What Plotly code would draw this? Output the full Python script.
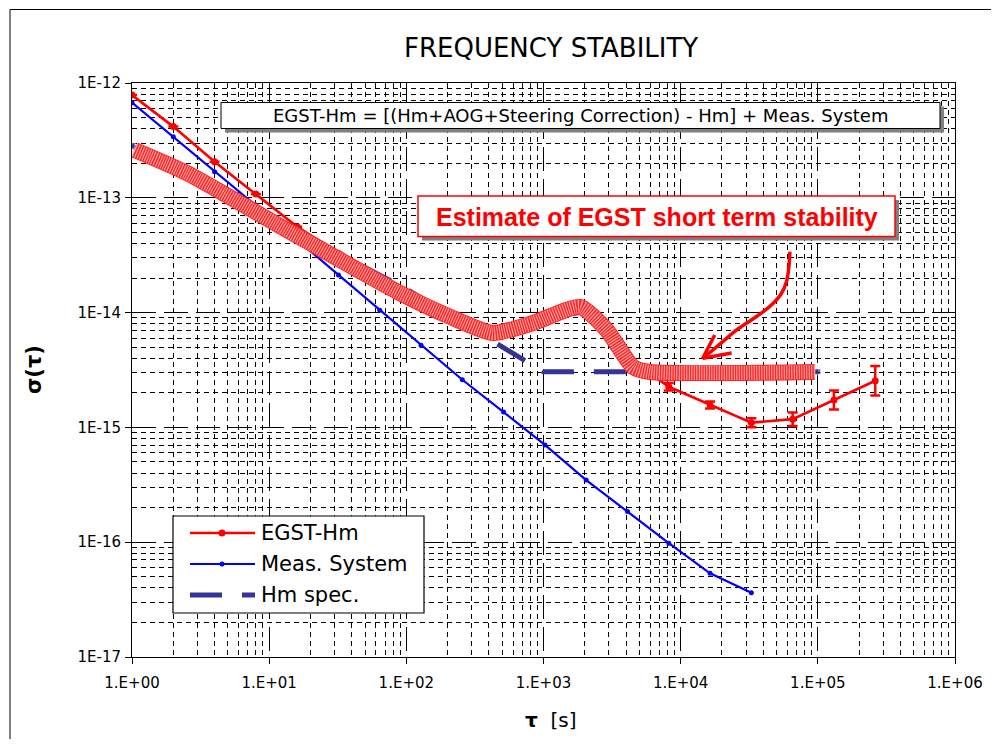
import plotly.graph_objects as go

# ---------------- data ----------------
egst_tau = [1, 2, 4, 8, 16, 32, 64, 128, 256, 512, 1024, 2048, 4096,
            8192, 16384, 32768, 65536, 131072, 262144]
egst_sigma = [7.86e-13, 4.17e-13, 2.06e-13, 1.08e-13, 5.6e-14, 3.28e-14, 1.95e-14,
              1.25e-14, 8.5e-15, 7.0e-15, 8.8e-15, 1.0e-14, 4.1e-15,
              2.26e-15, 1.57e-15, 1.10e-15, 1.18e-15, 1.73e-15, 2.55e-15]
egst_err_plus = [0] * 13 + [0.174e-15, 0.115e-15, 0.103e-15, 0.170e-15, 0.363e-15, 0.875e-15]
egst_err_minus = [0] * 13 + [0.163e-15, 0.108e-15, 0.095e-15, 0.149e-15, 0.300e-15, 0.650e-15]

meas_tau = [1, 2, 4, 8, 16, 32, 64, 128, 256, 512, 1024, 2048, 4096, 8192, 16384, 32768]
meas_sigma = [6.74e-13, 3.4e-13, 1.69e-13, 8.65e-14, 4.3e-14, 2.13e-14, 1.05e-14,
              5.2e-15, 2.6e-15, 1.36e-15, 7.03e-16, 3.48e-16, 1.85e-16, 9.8e-17,
              5.36e-17, 3.63e-17]

hm_tau = [1, 10, 100, 1000, 10000, 100000]
hm_sigma = [2.83e-13, 6.7e-14, 1.6e-14, 3.05e-15, 3.05e-15, 3.05e-15]

band_tau = [1.04, 2.52, 13.5, 89.8, 208, 428, 837, 1842, 2897, 4485, 5970, 95000]
band_sigma = [2.62e-13, 1.64e-13, 5.24e-14, 1.48e-14, 9.2e-15, 6.64e-15, 8.11e-15,
              1.12e-14, 7.05e-15, 3.36e-15, 3.04e-15, 3.04e-15]

arrow_tau = [62500, 61500, 59000, 53500, 45000, 35500, 26300, 19500, 14500]
arrow_sigma = [3.39e-14, 2.5e-14, 1.85e-14, 1.43e-14, 1.14e-14, 9.2e-15, 7.24e-15, 5.37e-15, 4.0e-15]
arrowhead_tau = [17700, 14500, 23500]
arrowhead_sigma = [6.38e-15, 4.0e-15, 4.45e-15]

x_tick_vals = [1, 10, 100, 1000, 10000, 100000, 1000000]
x_tick_text = ["1.E+00", "1.E+01", "1.E+02", "1.E+03", "1.E+04", "1.E+05", "1.E+06"]
y_tick_vals = [1e-17, 1e-16, 1e-15, 1e-14, 1e-13, 1e-12]
y_tick_text = ["1E-17", "1E-16", "1E-15", "1E-14", "1E-13", "1E-12"]

legend_names = ["EGST-Hm", "Meas. System", "Hm spec."]
title_text = "FREQUENCY STABILITY"
formula_text = "EGST-Hm = [(Hm+AOG+Steering Correction) - Hm] + Meas. System"
estimate_text = "Estimate of EGST short term stability"

# ---------------- styling ----------------
RED = "#ff0000"
BLUE = "#0000ff"
NAVY = "#333399"
FONT = "DejaVu Sans"

# page offset of the figure (default body margin) and plot area in page pixels
OFF = 8
PL, PR, PT, PB = 132, 955, 83, 657
W, H = 999 - OFF, 747 - 2 * OFF


def px(x):
    return (x - PL) / (PR - PL)


def py(y):
    return (PB - y) / (PB - PT)


minor_x = [m * 10 ** k for k in range(6) for m in range(2, 10)]
minor_y = [m * 10.0 ** k for k in range(-17, -12) for m in range(2, 10)]

fig = go.Figure()

fig.add_trace(go.Scatter(
    x=egst_tau, y=egst_sigma, mode="lines+markers", name=legend_names[0],
    line=dict(color=RED, width=2.6), marker=dict(color=RED, size=7),
    error_y=dict(type="data", symmetric=False, array=egst_err_plus,
                 arrayminus=egst_err_minus, color=RED, thickness=2.5, width=5),
))
fig.add_trace(go.Scatter(
    x=meas_tau, y=meas_sigma, mode="lines+markers", name=legend_names[1],
    line=dict(color=BLUE, width=2.2), marker=dict(color=BLUE, size=5),
))
hm_sizes = [6 if i in (0, len(hm_tau) - 1) else 0 for i in range(len(hm_tau))]
fig.add_trace(go.Scatter(
    x=hm_tau, y=hm_sigma, mode="lines+markers", name=legend_names[2],
    line=dict(color=NAVY, width=5, dash="32px,20px"),
    marker=dict(color=NAVY, size=hm_sizes, symbol="square"),
))
# thick estimate band
fig.add_trace(go.Scatter(
    x=band_tau, y=band_sigma, mode="lines", showlegend=False,
    line=dict(color="#ff2626", width=16, shape="spline", smoothing=0.6),
))
fig.add_trace(go.Scatter(
    x=band_tau, y=band_sigma, mode="lines", showlegend=False,
    line=dict(color="#ffb0b0", width=14, shape="spline", smoothing=0.6, dash="1px,1.5px"),
))
# arrow
fig.add_trace(go.Scatter(
    x=arrow_tau, y=arrow_sigma, mode="lines", showlegend=False,
    line=dict(color=RED, width=3.5, shape="spline", smoothing=1.0),
))
fig.add_trace(go.Scatter(
    x=arrowhead_tau, y=arrowhead_sigma, mode="lines", showlegend=False,
    line=dict(color=RED, width=3.5),
))

axis_common = dict(
    type="log", showline=True, linecolor="black", linewidth=1, mirror=True,
    ticks="outside", ticklen=6, tickcolor="black",
    showgrid=True, gridcolor="black", gridwidth=1, griddash="24px,8px",
    tickfont=dict(family=FONT, size=15, color="black"),
    zeroline=False,
)
fig.update_xaxes(**axis_common, range=[0, 6], tickmode="array",
                 tickvals=x_tick_vals, ticktext=x_tick_text, ticklabelstandoff=6,
                 minor=dict(tickmode="array", tickvals=minor_x, showgrid=True,
                            gridcolor="black", gridwidth=1, griddash="5px,4px", ticks=""))
fig.update_yaxes(**axis_common, range=[-17, -12], tickmode="array",
                 tickvals=y_tick_vals, ticktext=y_tick_text, ticklabelstandoff=1,
                 minor=dict(tickmode="array", tickvals=minor_y, showgrid=True,
                            gridcolor="black", gridwidth=1, griddash="5px,4px", ticks=""))

shapes = []
# outer frame
shapes.append(dict(type="rect", xref="paper", yref="paper", x0=px(10), x1=px(993),
                   y0=py(775), y1=py(9.5), line=dict(color="black", width=1), layer="below"))
# formula box with shadow
shapes.append(dict(type="rect", xref="paper", yref="paper", x0=px(225), x1=px(944),
                   y0=py(132.5), y1=py(106.5), fillcolor="#808080",
                   line=dict(width=0), layer="above"))
shapes.append(dict(type="rect", xref="paper", yref="paper", x0=px(221), x1=px(940),
                   y0=py(128.5), y1=py(102.5), fillcolor="white",
                   line=dict(color="black", width=1), layer="above"))
# estimate box with shadow
shapes.append(dict(type="rect", xref="paper", yref="paper", x0=px(422), x1=px(899),
                   y0=py(240.5), y1=py(200), fillcolor="#808080",
                   line=dict(width=0), layer="above"))
shapes.append(dict(type="rect", xref="paper", yref="paper", x0=px(418), x1=px(895),
                   y0=py(236.5), y1=py(196), fillcolor="white",
                   line=dict(color=RED, width=1.5), layer="above"))
# custom legend
shapes.append(dict(type="rect", xref="paper", yref="paper", x0=px(173), x1=px(424),
                   y0=py(613), y1=py(516), fillcolor="white",
                   line=dict(color="black", width=1.2), layer="above"))
leg_rows = [533, 564, 595]
leg_styles = [dict(color=RED, width=2.6), dict(color=BLUE, width=2.2),
              dict(color=NAVY, width=5, dash="32px,20px")]
for r, st in zip(leg_rows, leg_styles):
    shapes.append(dict(type="line", xref="paper", yref="paper", x0=px(190), x1=px(255),
                       y0=py(r), y1=py(r), line=st, layer="above"))
for r, c, s in [(leg_rows[0], RED, 3.5), (leg_rows[1], BLUE, 2.5)]:
    shapes.append(dict(type="circle", xref="paper", yref="paper",
                       xsizemode="pixel", ysizemode="pixel",
                       xanchor=px(222), yanchor=py(r),
                       x0=-s, x1=s, y0=-s, y1=s, fillcolor=c, line=dict(color=c, width=0),
                       layer="above"))

annotations = [
    dict(text=title_text, xref="paper", yref="paper", x=px(551), y=py(48),
         showarrow=False, font=dict(family=FONT, size=26, color="black"),
         xanchor="center", yanchor="middle"),
    dict(text=formula_text, xref="paper", yref="paper", x=px(580), y=py(115.5),
         showarrow=False, font=dict(family=FONT, size=18, color="black"),
         xanchor="center", yanchor="middle"),
    dict(text="<b>" + estimate_text + "</b>", xref="paper", yref="paper", x=px(657), y=py(216.5),
         showarrow=False, font=dict(family="Liberation Sans", size=25, color=RED),
         xanchor="center", yanchor="middle"),
    dict(text="<b>σ(τ)</b>", xref="paper", yref="paper", x=px(34), y=py(370),
         showarrow=False, textangle=-90, font=dict(family=FONT, size=21, color="black"),
         xanchor="center", yanchor="middle"),
    dict(text="<b>τ</b>  [s]", xref="paper", yref="paper", x=px(551), y=py(720),
         showarrow=False, font=dict(family=FONT, size=20, color="black"),
         xanchor="center", yanchor="middle"),
]
for r, name in zip(leg_rows, legend_names):
    annotations.append(dict(text=name, xref="paper", yref="paper", x=px(259), y=py(r),
                            showarrow=False, font=dict(family=FONT, size=21, color="black"),
                            xanchor="left", yanchor="middle"))

fig.update_layout(
    width=W, height=H,
    margin=dict(l=PL - OFF, r=OFF + W - PR, t=PT - OFF, b=OFF + H - PB),
    paper_bgcolor="white", plot_bgcolor="white", showlegend=False,
    shapes=shapes, annotations=annotations,
)

fig.write_html("out.html")
